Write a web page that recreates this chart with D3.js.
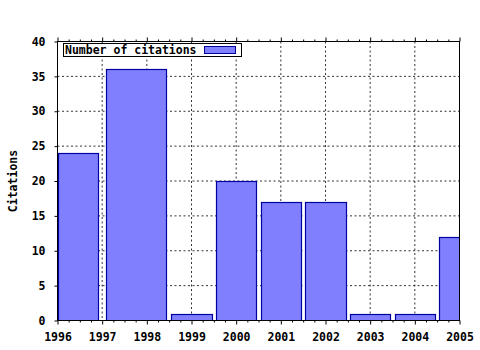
<!DOCTYPE html>
<html>
<head>
<meta charset="utf-8">
<script src="https://cdn.jsdelivr.net/npm/d3@7"></script>
<style>
  body { margin: 0; background: #fff; }
  svg { display: block; }
  text { font-family: "DejaVu Sans Mono", monospace; font-weight: bold; font-size: 11.5px; fill: #000; }
</style>
</head>
<body>
<svg></svg>
<script>
// data
let years = [1996, 1997, 1998, 1999, 2000, 2001, 2002, 2003, 2004, 2005];
let yTicks = [0, 5, 10, 15, 20, 25, 30, 35, 40];
// each box spans [spanFrom, spanTo] on the year axis
let spanFrom = [1996.0, 1997.09, 1998.55, 1999.55, 2000.55, 2001.55, 2002.55, 2003.55, 2004.55];
let spanTo   = [1996.9, 1998.44, 1999.45, 2000.45, 2001.45, 2002.45, 2003.45, 2004.45, 2005.45];
let citations = [24, 36, 1, 20, 17, 17, 1, 1, 12];
let seriesName = "Number of citations";
let yTitle = "Citations";

let values = citations.map((v, i) => ({ from: spanFrom[i], to: spanTo[i], value: v }));

let width = 480;
let height = 350;
let pLeft = 57.5, pRight = 459.5, pTop = 41.5, pBottom = 320.5;

let svg = d3.select("svg").attr("width", width).attr("height", height);

let xScale = d3.scaleLinear().domain([1996, 2005]).range([pLeft, pRight]);
let yScale = d3.scaleLinear().domain([0, 40]).range([pBottom, pTop]);

// grid
let grid = svg.append("g").attr("class", "grid");
grid.selectAll(".vgrid")
    .data(years.slice(1, -1))
    .enter()
    .append("line")
    .attr("x1", d => xScale(d)).attr("x2", d => xScale(d))
    .attr("y1", pTop).attr("y2", pBottom)
    .attr("stroke", "#333").attr("stroke-dasharray", "2,2.5");
grid.selectAll(".hgrid")
    .data(yTicks.slice(1, -1))
    .enter()
    .append("line")
    .attr("x1", pLeft).attr("x2", pRight)
    .attr("y1", d => yScale(d)).attr("y2", d => yScale(d))
    .attr("stroke", "#333").attr("stroke-dasharray", "2,2.5");

// bars
svg.append("clipPath").attr("id", "plot")
   .append("rect")
   .attr("x", pLeft).attr("y", pTop)
   .attr("width", pRight - pLeft).attr("height", pBottom - pTop);

svg.append("g")
   .attr("clip-path", "url(#plot)")
   .selectAll("rect")
   .data(values)
   .enter()
   .append("rect")
   .attr("x", d => Math.round(xScale(d.from)) + 0.5)
   .attr("y", d => Math.round(yScale(d.value)) + 0.5)
   .attr("width", d => Math.round(xScale(d.to)) - Math.round(xScale(d.from)))
   .attr("height", d => Math.round(yScale(0)) - Math.round(yScale(d.value)))
   .attr("fill", "#8080ff")
   .attr("stroke", "#0000a0")
   .attr("stroke-width", 1.2);

// minor ticks
let minor = d3.range(1996, 2005.001, 0.25).filter(d => Math.abs(d - Math.round(d)) > 0.01);

let xAxis = d3.axisBottom(xScale).tickValues(years).tickFormat(d3.format("d")).tickSize(4).tickPadding(8);
svg.append("g")
   .attr("transform", `translate(0, ${pBottom})`)
   .call(xAxis)
   .call(g => g.select(".domain").remove());

svg.append("g")
   .attr("transform", `translate(0, ${pBottom})`)
   .call(d3.axisBottom(xScale).tickValues(minor).tickSize(2).tickFormat(""))
   .call(g => g.select(".domain").remove());

svg.append("g")
   .attr("transform", `translate(0, ${pTop})`)
   .call(d3.axisTop(xScale).tickValues(years).tickSize(4).tickFormat(""))
   .call(g => g.select(".domain").remove());

svg.append("g")
   .attr("transform", `translate(0, ${pTop})`)
   .call(d3.axisTop(xScale).tickValues(minor).tickSize(2).tickFormat(""))
   .call(g => g.select(".domain").remove());

let yAxis = d3.axisLeft(yScale).tickValues(yTicks).tickSize(3).tickPadding(9);
svg.append("g")
   .attr("transform", `translate(${pLeft}, 0)`)
   .call(yAxis)
   .call(g => g.select(".domain").remove());

svg.selectAll(".tick text")
   .style("font-family", "DejaVu Sans Mono, monospace")
   .style("font-weight", "bold")
   .style("font-size", "11.5px")
   .attr("fill", "#000");

// frame
svg.append("rect")
   .attr("x", pLeft).attr("y", pTop)
   .attr("width", pRight - pLeft).attr("height", pBottom - pTop)
   .attr("fill", "none").attr("stroke", "#000");

// y title
svg.append("text")
   .attr("transform", `translate(17, ${(pTop + pBottom) / 2}) rotate(-90)`)
   .attr("text-anchor", "middle")
   .text(yTitle);

// legend
let legend = svg.append("g");
legend.append("rect")
   .attr("x", 63.5).attr("y", 43.5)
   .attr("width", 178).attr("height", 13)
   .attr("fill", "#fff").attr("stroke", "#000");
legend.append("text")
   .attr("x", 65).attr("y", 54)
   .text(seriesName);
legend.append("rect")
   .attr("x", 204.5).attr("y", 46.5)
   .attr("width", 31).attr("height", 7)
   .attr("fill", "#8080ff").attr("stroke", "#0000a0");
</script>
</body>
</html>
